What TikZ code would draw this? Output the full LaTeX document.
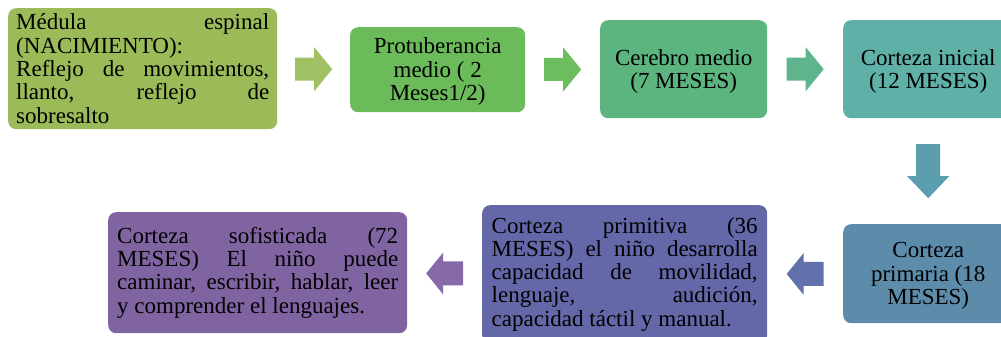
\documentclass[tikz,border=0pt]{standalone}
\usepackage{fontspec}
\setmainfont{Liberation Serif}
\usetikzlibrary{calc}
\hyphenpenalty=10000
\exhyphenpenalty=10000
\newcommand\topstrutx{\rule{0pt}{20pt}}
\definecolor{bA}{HTML}{9BBB59}
\definecolor{aA}{HTML}{A0C163}
\definecolor{bB}{HTML}{6CBB5B}
\definecolor{aB}{HTML}{6CBD5E}
\definecolor{bC}{HTML}{5CB47F}
\definecolor{aC}{HTML}{5EB48D}
\definecolor{bD}{HTML}{5FB0A7}
\definecolor{aD}{HTML}{5A9EAF}
\definecolor{bE}{HTML}{5C8CAA}
\definecolor{aE}{HTML}{6270AC}
\definecolor{bF}{HTML}{6467A8}
\definecolor{aF}{HTML}{8569A8}
\definecolor{bG}{HTML}{8064A2}
\begin{document}
\begin{tikzpicture}[x=1pt,y=-1pt,
  box/.style={rounded corners=8pt, inner sep=0pt, anchor=north west,
    font=\fontsize{23}{23.3}\selectfont, text=black},
  jbox/.style={box, align=justify},
  cbox/.style={box, align=center},
  rarr/.pic={\fill (-18.5,-11.5) -- (0.5,-11.5) -- (0.5,-22) -- (18.5,0) -- (0.5,22) -- (0.5,11.5) -- (-18.5,11.5) -- cycle;},
  larr/.pic={\fill (18.5,-12) -- (-1.5,-12) -- (-1.5,-21) -- (-18.5,0) -- (-1.5,21) -- (-1.5,12) -- (18.5,12) -- cycle;},
  darr/.pic={\fill (-12,-27) -- (12,-27) -- (12,5) -- (21,5) -- (0,27) -- (-21,5) -- (-12,5) -- cycle;}
]
\useasboundingbox (0,0) rectangle (1001,337);
\clip (0,0) rectangle (1001,337);

\node[jbox, fill=bA, text width=253pt, inner xsep=8pt, minimum height=121pt] (b1) at (8,8)
  {Médula espinal\linebreak (NACIMIENTO):\newline Reflejo de movimientos,\linebreak llanto, reflejo de\linebreak sobresalto};
\node[cbox, fill=bB, minimum width=175pt, minimum height=85pt] (b2) at (350,27)
  {\topstrutx Protuberancia\\medio ( 2\\Meses1/2)};
\node[cbox, fill=bC, minimum width=167pt, minimum height=98pt] (b3) at (600,20)
  {\topstrutx Cerebro medio\\(7 MESES)};
\node[cbox, fill=bD, minimum width=170pt, minimum height=98pt] (b4) at (843,20)
  {\topstrutx Corteza inicial\\(12 MESES)};
\node[cbox, fill=bE, minimum width=170pt, minimum height=99pt] (b5) at (843,224)
  {\topstrutx Corteza\\primaria (18\\MESES)};
\node[jbox, fill=bF, text width=266pt, inner xsep=9.5pt, minimum height=138pt] (b6) at (482,205)
  {Corteza primitiva (36\linebreak MESES) el niño desarrolla\linebreak capacidad de movilidad,\linebreak lenguaje, audición,\linebreak capacidad táctil y manual.};
\node[jbox, fill=bG, text width=281pt, inner xsep=9pt, minimum height=121pt] (b7) at (108,212)
  {Corteza sofisticada (72\linebreak MESES) El niño puede\linebreak caminar, escribir, hablar, leer\linebreak y comprender el lenguajes.};

\pic[fill=aA] (p1) at ($(b1.east)!0.5!(b2.west)$) {rarr};
\pic[fill=aB] (p2) at ($(b2.east)!0.5!(b3.west)$) {rarr};
\pic[fill=aC] (p3) at ($(b3.east)!0.5!(b4.west)$) {rarr};
\pic[fill=aD] (p4) at ($(b4.south)!0.5!(b5.north)$) {darr};
\pic[fill=aE] (p5) at ($(b5.west)!0.5!(b6.east)$) {larr};
\pic[fill=aF] (p6) at ($(b6.west)!0.5!(b7.east)$) {larr};
\end{tikzpicture}
\end{document}
